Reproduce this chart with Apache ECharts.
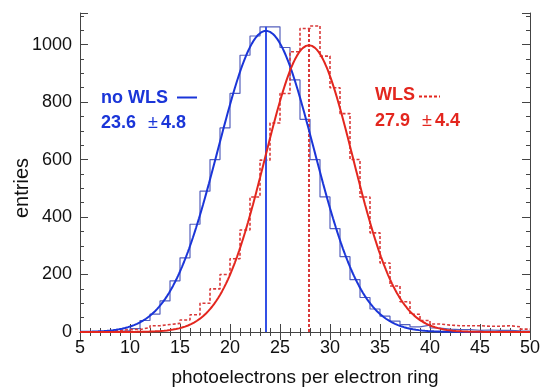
<!DOCTYPE html>
<html>
<head>
<meta charset="utf-8">
<script src="https://cdn.jsdelivr.net/npm/echarts@6/dist/echarts.min.js"></script>
<style>
  html, body { margin: 0; padding: 0; background: #fff; }
  #chart { width: 541px; height: 387px; }
</style>
</head>
<body>
<div id="chart"></div>
<script>
// Photoelectron counts per electron ring, 1-p.e. bins from 5 to 50
const binStart = 5;
const binWidth = 1;

// without wavelength shifter
const noWlsCounts = [
  0, 0, 1, 2, 5, 12, 40, 62, 108, 178,
  258, 375, 490, 600, 710, 830, 963, 1030, 1062, 1062,
  990, 877, 740, 600, 470, 360, 262, 182, 120, 80,
  55, 38, 26, 18, 24, 14, 10, 8, 8, 6,
  7, 6, 6, 4, 3
];

// with wavelength shifter
const wlsCounts = [
  0, 0, 2, 6, 8, 9, 15, 22, 26, 30,
  42, 60, 100, 150, 200, 255, 355, 470, 598, 727,
  830, 975, 1056, 1065, 960, 850, 760, 600, 470, 345,
  240, 160, 105, 62, 40, 28, 24, 22, 22, 22,
  20, 20, 22, 18, 10
];

// Gaussian fit results (mean, sigma as quoted, peak height)
const noWlsFit = { mean: 23.6, sigma: 4.8, peak: 1048 };
const wlsFit = { mean: 27.9, sigma: 4.4, peak: 998 };

const xRange = [5, 50];
const yRange = [0, 1110];

const BLUE = '#1a35d8';
const BLUE_HIST = '#5560bd';
const RED = '#e3261e';
const RED_HIST = '#d93a3a';
const FONT = 'Liberation Sans, Arial, Helvetica, sans-serif';

// outline of a histogram as step points
function histSteps(counts) {
  const pts = counts.map((c, i) => [binStart + i * binWidth, c]);
  pts.push([binStart + counts.length * binWidth, counts[counts.length - 1]]);
  return pts;
}

// fitted Gaussian curve sampled across the axis range
function fitCurve(fit) {
  const pts = [];
  for (let x = xRange[0]; x <= xRange[1] + 1e-9; x += 0.1) {
    const d = (x - fit.mean) / fit.sigma;
    pts.push([+x.toFixed(2), fit.peak * Math.exp(-0.5 * d * d)]);
  }
  return pts;
}

function countAt(counts, x) {
  return counts[Math.floor((x - binStart) / binWidth)];
}

// "mean ± sigma" label with a lighter plus-minus sign
function fitLabel(fit, color) {
  return {
    text: '{b|' + fit.mean.toFixed(1) + '}{n|\u00b1}{b|' + fit.sigma.toFixed(1) + '}',
    font: 'bold 18px ' + FONT,
    fill: color,
    rich: {
      b: { fill: color, font: 'bold 18px ' + FONT },
      n: { fill: color, font: '18px ' + FONT, padding: [0, 3, 0, 12] }
    }
  };
}

const frameAxisLine = { show: true, lineStyle: { color: '#444', width: 1 } };
const tickStyle = { color: '#444' };

const chart = echarts.init(document.getElementById('chart'), null, { renderer: 'canvas' });

chart.setOption({
  animation: false,
  backgroundColor: '#fff',
  grid: { left: 80, right: 11, top: 13, bottom: 55, containLabel: false, outerBoundsMode: 'none' },
  xAxis: [
    {
      type: 'value', min: xRange[0], max: xRange[1], interval: 5,
      name: 'photoelectrons per electron ring',
      nameLocation: 'middle', nameGap: 36,
      nameTextStyle: { fontFamily: FONT, fontSize: 19, color: '#111' },
      axisLine: frameAxisLine,
      axisTick: { inside: true, length: 8, lineStyle: tickStyle },
      minorTick: { show: true, splitNumber: 5, length: 4, lineStyle: tickStyle },
      axisLabel: { fontFamily: FONT, fontSize: 18, color: '#111', margin: 7 },
      splitLine: { show: false }
    },
    {
      type: 'value', position: 'top', min: xRange[0], max: xRange[1], interval: 5,
      axisLine: frameAxisLine,
      axisTick: { inside: true, length: 8, lineStyle: tickStyle },
      minorTick: { show: true, splitNumber: 5, length: 4, lineStyle: tickStyle },
      axisLabel: { show: false },
      splitLine: { show: false }
    }
  ],
  yAxis: [
    {
      type: 'value', min: yRange[0], max: yRange[1], interval: 200,
      axisLine: frameAxisLine,
      axisTick: { inside: true, length: 8, lineStyle: tickStyle },
      minorTick: { show: true, splitNumber: 4, length: 4, lineStyle: tickStyle },
      axisLabel: {
        fontFamily: FONT, fontSize: 18, color: '#111', margin: 8, showMaxLabel: false,
        formatter: (v) => String(v)
      },
      splitLine: { show: false }
    },
    {
      type: 'value', position: 'right', min: yRange[0], max: yRange[1], interval: 200,
      axisLine: frameAxisLine,
      axisTick: { inside: true, length: 8, lineStyle: tickStyle },
      minorTick: { show: true, splitNumber: 4, length: 4, lineStyle: tickStyle },
      axisLabel: { show: false },
      splitLine: { show: false }
    }
  ],
  series: [
    {
      name: 'no WLS histogram', type: 'line', step: 'end', symbol: 'none',
      data: histSteps(noWlsCounts),
      lineStyle: { color: BLUE_HIST, width: 1.2 }, z: 2
    },
    {
      name: 'WLS histogram', type: 'line', step: 'end', symbol: 'none',
      data: histSteps(wlsCounts),
      lineStyle: { color: RED_HIST, width: 1.6, type: [3, 2] }, z: 2
    },
    {
      name: 'no WLS fit', type: 'line', symbol: 'none', smooth: false,
      data: fitCurve(noWlsFit),
      lineStyle: { color: BLUE, width: 2 }, z: 4
    },
    {
      name: 'WLS fit', type: 'line', symbol: 'none', smooth: false,
      data: fitCurve(wlsFit),
      lineStyle: { color: RED, width: 2 }, z: 4
    },
    {
      name: 'no WLS mean', type: 'line', symbol: 'none',
      data: [[noWlsFit.mean, 0], [noWlsFit.mean, countAt(noWlsCounts, noWlsFit.mean)]],
      lineStyle: { color: '#3350e6', width: 2 }, z: 3
    },
    {
      name: 'WLS mean', type: 'line', symbol: 'none',
      data: [[wlsFit.mean, 0], [wlsFit.mean, countAt(wlsCounts, wlsFit.mean)]],
      lineStyle: { color: RED_HIST, width: 2, type: [3, 2] }, z: 3
    }
  ],
  graphic: [
    {
      type: 'text', x: 22, y: 188, rotation: Math.PI / 2,
      style: { text: 'entries', fill: '#111', font: '20px ' + FONT, align: 'center', verticalAlign: 'middle' }
    },
    {
      type: 'text', left: 101, top: 89,
      style: { text: 'no WLS', fill: BLUE, font: 'bold 18px ' + FONT }
    },
    {
      type: 'line', shape: { x1: 177, y1: 97.5, x2: 197, y2: 97.5 },
      style: { stroke: BLUE, lineWidth: 2 }
    },
    {
      type: 'text', left: 101, top: 114,
      style: fitLabel(noWlsFit, BLUE)
    },
    {
      type: 'text', left: 375, top: 86,
      style: { text: 'WLS', fill: RED, font: 'bold 18px ' + FONT }
    },
    {
      type: 'line', shape: { x1: 419, y1: 96.5, x2: 440, y2: 96.5 },
      style: { stroke: RED, lineWidth: 2, lineDash: [3, 2] }
    },
    {
      type: 'text', left: 375, top: 112,
      style: fitLabel(wlsFit, RED)
    }
  ]
});
</script>
</body>
</html>
